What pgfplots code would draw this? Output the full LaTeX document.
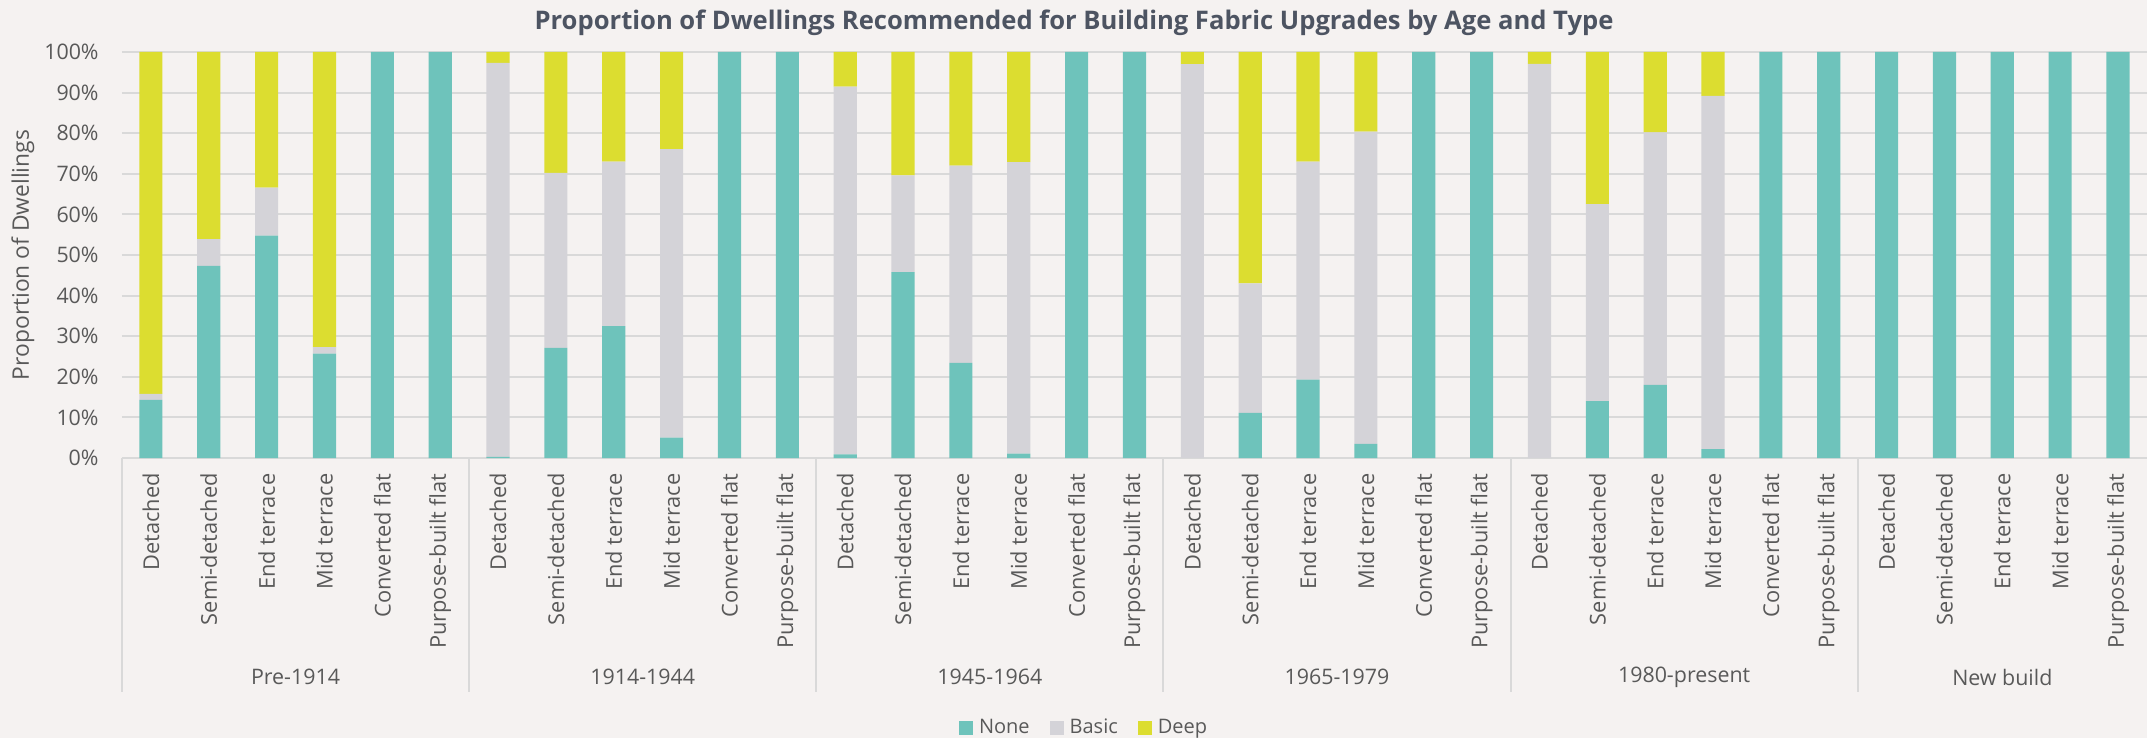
\documentclass[border=0pt]{standalone}
\usepackage{fontspec}
\setmainfont{Open Sans}
\usepackage{pgfplots}
\usepackage{pgfplotstable}
\pgfplotsset{compat=1.18}
\definecolor{bg}{HTML}{F5F2F1}
\definecolor{cNone}{HTML}{6EC3BB}
\definecolor{cBasic}{HTML}{D4D3D8}
\definecolor{cDeep}{HTML}{DCDD30}
\definecolor{gridc}{HTML}{D9D9D9}
\definecolor{txt}{HTML}{595959}
\definecolor{ttl}{HTML}{4D5462}
\pgfplotstableread{
x none basic deep
0 14.3 1.5 84.2
1 47.3 6.6 46.1
2 54.8 11.8 33.4
3 25.7 1.6 72.7
4 100 0 0
5 100 0 0
6 0.3 97.0 2.7
7 27.1 43.1 29.8
8 32.5 40.5 27.0
9 5.0 71.1 23.9
10 100 0 0
11 100 0 0
12 0.9 90.6 8.5
13 45.8 23.8 30.4
14 23.4 48.6 28.0
15 1.1 71.8 27.1
16 100 0 0
17 100 0 0
18 0 97.0 3.0
19 11.1 31.9 57.0
20 19.3 53.7 27.0
21 3.5 76.9 19.6
22 100 0 0
23 100 0 0
24 0 97.1 2.9
25 14.0 48.5 37.5
26 18.0 62.2 19.8
27 2.2 87.0 10.8
28 100 0 0
29 100 0 0
30 100 0 0
31 100 0 0
32 100 0 0
33 100 0 0
34 100 0 0
}\datatable
\begin{document}
\begin{tikzpicture}
\fill[bg] (-61pt,-140pt) rectangle (1012.5pt,229pt);
\begin{axis}[
  at={(0,0)}, anchor=south west, scale only axis,
  width=1012.5pt, height=203pt,
  ybar stacked, bar width=0.4,
  xmin=-0.5, xmax=34.5, ymin=0, ymax=100,
  clip=false,
  axis line style={draw=none},
  major tick length=0pt,
  ymajorgrids, grid style={gridc, line width=1pt},
  xtick={0,...,34},
  xticklabels={Detached,Semi-detached,End terrace,Mid terrace,Converted flat,Purpose-built flat,
               Detached,Semi-detached,End terrace,Mid terrace,Converted flat,Purpose-built flat,
               Detached,Semi-detached,End terrace,Mid terrace,Converted flat,Purpose-built flat,
               Detached,Semi-detached,End terrace,Mid terrace,Converted flat,Purpose-built flat,
               Detached,Semi-detached,End terrace,Mid terrace,Converted flat,Purpose-built flat,
               Detached,Semi-detached,End terrace,Mid terrace,Purpose-built flat},
  xticklabel style={anchor=east, rotate=90, inner xsep=7.5pt, inner ysep=0pt, text=txt, font=\fontsize{10.9}{12}\selectfont},
  ytick={0,10,...,100},
  yticklabels={0\%,10\%,20\%,30\%,40\%,50\%,60\%,70\%,80\%,90\%,100\%},
  yticklabel style={inner sep=0pt, xshift=-11.5pt, text=txt, font=\fontsize{10.7}{12}\selectfont},
  legend style={at={(0.4756,-0.664)}, anchor=center, draw=none, fill=none,
    legend columns=-1, font=\fontsize{10}{12}\selectfont, text=txt,
    /tikz/every odd column/.append style={column sep=1pt},
    /tikz/every even column/.append style={column sep=8pt}},
  legend image code/.code={\fill[#1] (0pt,-3.5pt) rectangle (7pt,3.5pt);},
]
\addplot[fill=cNone, draw=none] table[x=x, y=none] {\datatable};
\addplot[fill=cBasic, draw=none] table[x=x, y=basic] {\datatable};
\addplot[fill=cDeep, draw=none] table[x=x, y=deep] {\datatable};
\legend{None, Basic, Deep}
\pgfplotsinvokeforeach{-0.5,5.5,11.5,17.5,23.5,29.5}{
  \draw[gridc, line width=1pt] (axis cs:#1,0) -- ++(0pt,-117pt);
}
\node[text=txt, font=\fontsize{10.7}{13}\selectfont] at ([yshift=-109.5pt]axis cs:2.5,0) {Pre-1914};
\node[text=txt, font=\fontsize{10.7}{13}\selectfont] at ([yshift=-109.5pt]axis cs:8.5,0) {1914-1944};
\node[text=txt, font=\fontsize{10.7}{13}\selectfont] at ([yshift=-109.5pt]axis cs:14.5,0) {1945-1964};
\node[text=txt, font=\fontsize{10.7}{13}\selectfont] at ([yshift=-109.5pt]axis cs:20.5,0) {1965-1979};
\node[text=txt, font=\fontsize{10.7}{13}\selectfont] at ([yshift=-109.5pt]axis cs:26.5,0) {1980-present};
\node[text=txt, font=\fontsize{10.7}{13}\selectfont] at ([yshift=-109.5pt]axis cs:32,0) {New build};
\end{axis}
\node[text=ttl, font=\bfseries\fontsize{12.8}{15}\selectfont] at (476pt,217.5pt) {Proportion of Dwellings Recommended for Building Fabric Upgrades by Age and Type};
\node[rotate=90, text=txt, font=\fontsize{11.4}{13}\selectfont] at (-49.5pt,101.5pt) {Proportion of Dwellings};
\pgfresetboundingbox
\path (-61pt,-140pt) rectangle (1012.5pt,229pt);
\end{tikzpicture}
\end{document}
